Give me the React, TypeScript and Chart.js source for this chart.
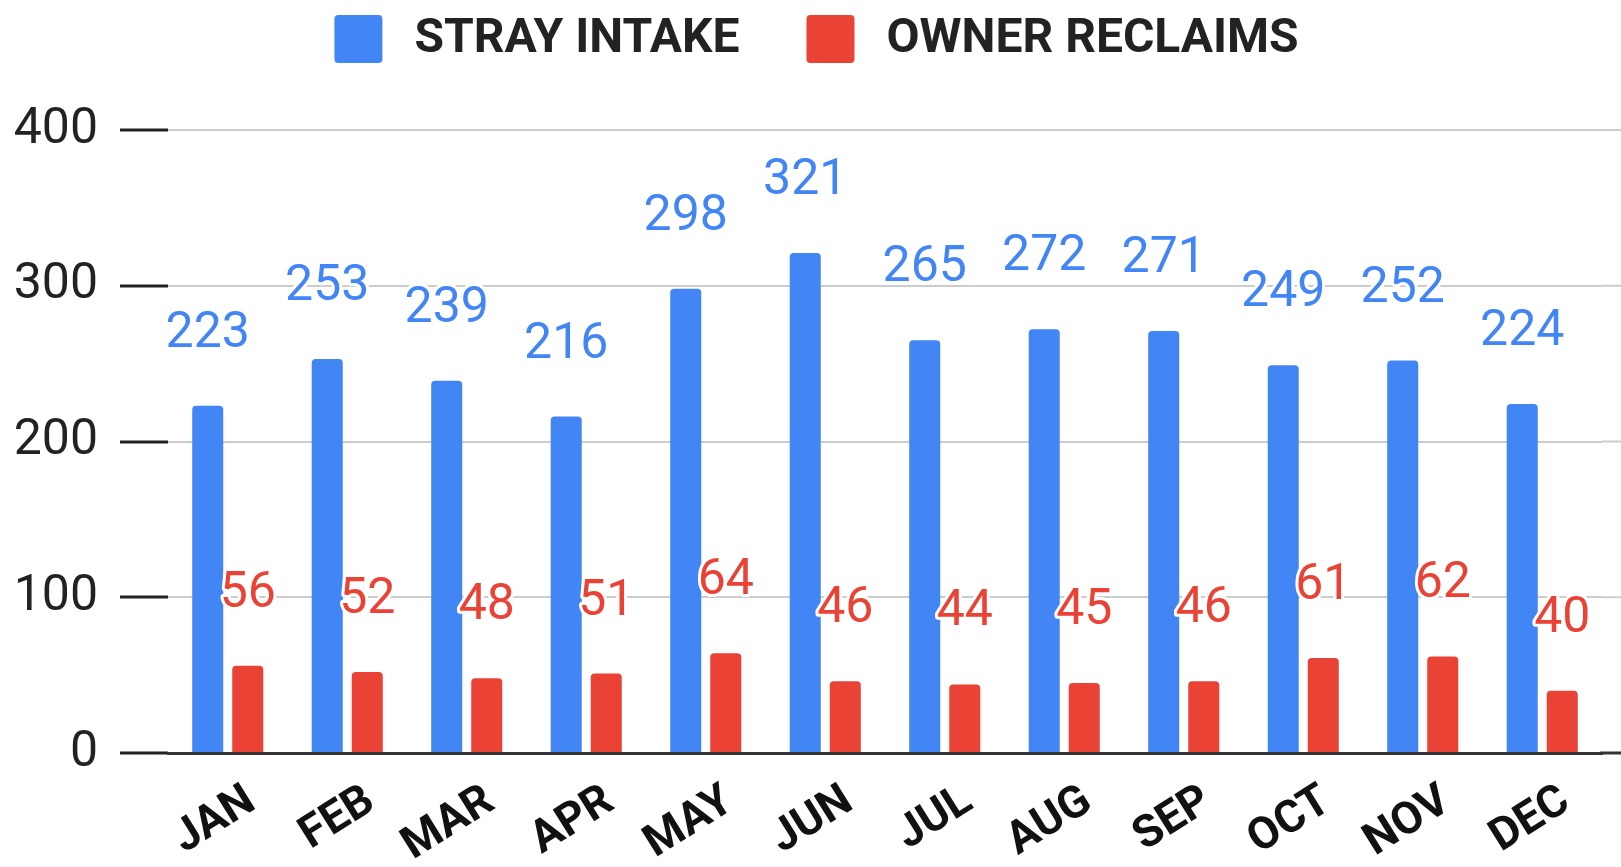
import React, { useEffect, useRef } from "react";
import { Chart, registerables } from "chart.js";

Chart.register(...registerables);

const months = ["JAN", "FEB", "MAR", "APR", "MAY", "JUN", "JUL", "AUG", "SEP", "OCT", "NOV", "DEC"];
const strayIntake = [223, 253, 239, 216, 298, 321, 265, 272, 271, 249, 252, 224];
const ownerReclaims = [56, 52, 48, 51, 64, 46, 44, 45, 46, 61, 62, 40];
const seriesNames = ["STRAY INTAKE", "OWNER RECLAIMS"];
const seriesColors = ["#4285F4", "#EA4335"];
const yTicks = [0, 100, 200, 300, 400];

const W = 1621;
const H = 867;

const legendPlugin = {
  id: "customLegend",
  afterDraw(chart: any) {
    const ctx = chart.ctx;
    ctx.save();
    ctx.font = "bold 48px Roboto";
    ctx.textBaseline = "middle";
    const box = 48;
    const gapText = 32;
    const gapItem = 67;
    const widths = chart.data.datasets.map((d: any) => ctx.measureText(d.label).width);
    let total = 0;
    widths.forEach((w: number, i: number) => {
      total += box + gapText + w + (i > 0 ? gapItem : 0);
    });
    let x = (chart.width - total) / 2 + 6;
    const top = 15;
    chart.data.datasets.forEach((d: any, i: number) => {
      ctx.fillStyle = d.backgroundColor;
      ctx.beginPath();
      (ctx as any).roundRect(x, top, box, box, 4);
      ctx.fill();
      x += box + gapText;
      ctx.fillStyle = "#222222";
      ctx.textAlign = "left";
      ctx.fillText(d.label, x, top + box / 2 + 1);
      x += widths[i] + gapItem;
    });
    ctx.restore();
  },
};

const extendGridPlugin = {
  id: "extendGrid",
  beforeDatasetsDraw(chart: any) {
    const ctx = chart.ctx;
    const y = chart.scales.y;
    const area = chart.chartArea;
    ctx.save();
    ctx.strokeStyle = "#cccccc";
    ctx.lineWidth = 2;
    y.ticks.forEach((t: any) => {
      if (t.value === 0) return;
      const py = y.getPixelForValue(t.value);
      ctx.beginPath();
      ctx.moveTo(area.right, py);
      ctx.lineTo(chart.width, py);
      ctx.stroke();
    });
    ctx.strokeStyle = "#333333";
    ctx.lineWidth = 3;
    const p0 = y.getPixelForValue(0);
    ctx.beginPath();
    ctx.moveTo(area.right - 2, p0);
    ctx.lineTo(chart.width, p0);
    ctx.stroke();
    ctx.restore();
  },
};

const dataLabelPlugin = {
  id: "dataLabels",
  afterDatasetsDraw(chart: any) {
    const ctx = chart.ctx;
    ctx.save();
    ctx.font = "50px Roboto";
    ctx.textAlign = "center";
    ctx.textBaseline = "alphabetic";
    ctx.lineJoin = "round";
    chart.data.datasets.forEach((d: any, i: number) => {
      const meta = chart.getDatasetMeta(i);
      meta.data.forEach((bar: any, j: number) => {
        const text = String(d.data[j]);
        const x = bar.x;
        const y = bar.y - 59;
        ctx.strokeStyle = "#ffffff";
        ctx.lineWidth = 6;
        ctx.strokeText(text, x, y);
        ctx.fillStyle = d.backgroundColor;
        ctx.fillText(text, x, y);
      });
    });
    ctx.restore();
  },
};

export default function App() {
  const ref = useRef<HTMLCanvasElement | null>(null);

  useEffect(() => {
    document.body.style.margin = "0";
    if (!ref.current) return;
    const chart = new Chart(ref.current, {
      type: "bar",
      data: {
        labels: months,
        datasets: [
          {
            label: seriesNames[0],
            data: strayIntake,
            backgroundColor: seriesColors[0],
            borderRadius: 4,
            borderSkipped: "start",
            categoryPercentage: 0.67,
            barPercentage: 0.775,
          },
          {
            label: seriesNames[1],
            data: ownerReclaims,
            backgroundColor: seriesColors[1],
            borderRadius: 4,
            borderSkipped: "start",
            categoryPercentage: 0.67,
            barPercentage: 0.775,
          },
        ],
      },
      options: {
        responsive: false,
        animation: false,
        layout: { padding: { top: 130, right: 19, bottom: 0, left: 0 } },
        plugins: {
          legend: { display: false },
          tooltip: { enabled: false },
        },
        scales: {
          x: {
            grid: { display: false, drawTicks: false },
            border: { display: true, color: "#333333", width: 3 },
            ticks: {
              autoSkip: false,
              minRotation: 32,
              maxRotation: 32,
              padding: 22,
              labelOffset: 24,
              color: "#111111",
              font: { family: "Roboto", size: 45, weight: "bold" },
            },
            afterFit(scale: any) {
              scale.height = 114;
            },
          },
          y: {
            min: 0,
            max: 400,
            afterBuildTicks(scale: any) {
              scale.ticks = yTicks.map((v) => ({ value: v }));
            },
            grid: {
              color: "#cccccc",
              lineWidth: 2,
              tickColor: "#222222",
              tickLength: 48,
              tickWidth: 3,
            },
            border: { display: false },
            ticks: {
              padding: 22,
              color: "#222222",
              font: { family: "Roboto", size: 50 },
            },
            afterFit(scale: any) {
              scale.width = 168;
            },
          },
        },
      },
      plugins: [extendGridPlugin, dataLabelPlugin, legendPlugin],
    });
    return () => chart.destroy();
  }, []);

  return (
    <div style={{ width: W, height: H }}>
      <canvas ref={ref} width={W} height={H} style={{ width: W, height: H, display: "block" }} />
    </div>
  );
}
